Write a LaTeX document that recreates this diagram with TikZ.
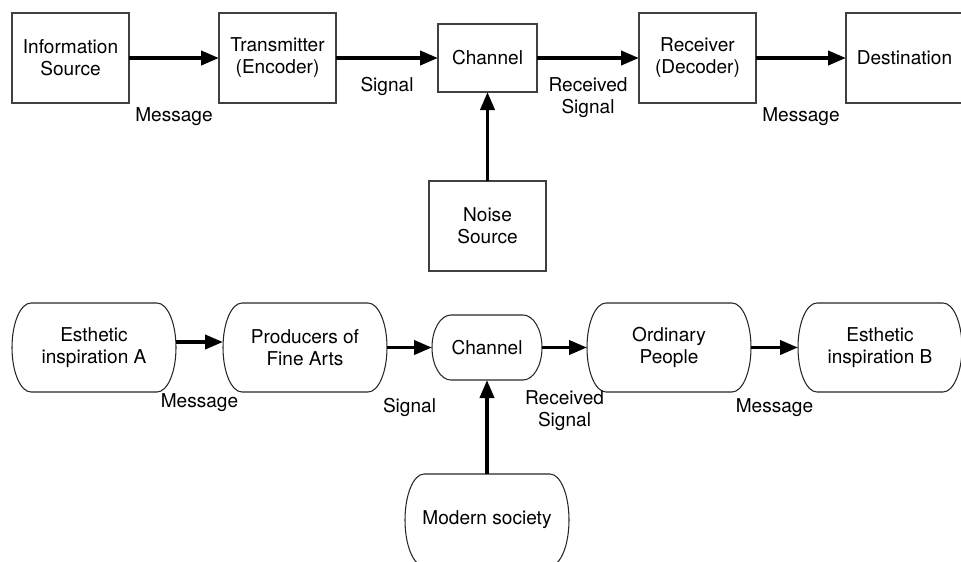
\documentclass[tikz,border=0pt]{standalone}
\usepackage{fontspec}
\setmainfont{TeX Gyre Heros}
\usetikzlibrary{arrows.meta}
\usetikzlibrary{positioning,calc}

\begin{document}
\begin{tikzpicture} [line width=0.6pt,
    every node/.style={font=\fontsize{10.85}{12.5}\selectfont},
    block/.style={draw=black!75,minimum width=2.34cm,minimum height=1.8cm,align=center,inner sep=0pt,outer sep=0pt},
    soft/.style={minimum width=3.28cm,minimum height=1.78cm,align=center,inner sep=0pt,outer sep=0pt},
    rim/.style={draw=black!85,line width=0.6pt},
    flow/.style={line width=2.2pt,-{Triangle[length=0.36cm,width=0.28cm]}},
    tag/.style={inner sep=0pt,align=center}]

  \clip (0,0) rectangle (19.22,-11.22);

  % Shannon model
  \node[block] (info) at (1.41,-1.16) {Information\\Source};
  \node[block] (trans) [right=1.8cm of info] {Transmitter\\(Encoder)};
  \node[block,minimum width=1.98cm,minimum height=1.36cm] (chanA) [right=2.04cm of trans] {Channel};
  \node[block] (recv) [right=2.04cm of chanA] {Receiver\\(Decoder)};
  \node[block] (dest) [right=1.8cm of recv] {Destination};
  \node[block] (noise) [below=1.78cm of chanA] {Noise\\Source};

  \path[flow]
    (info) edge node [tag,below=0.96cm] {Message} (trans)
    (trans) edge node [tag,below=0.34cm] {Signal} (chanA)
    (chanA) edge node [tag,below=0.36cm] {Received\\Signal} (recv)
    (recv) edge node [tag,below=0.96cm] {Message} (dest)
    (noise) edge (chanA);

  % art model
  \node[soft] (inspA) at (1.88,-6.95) {Esthetic\\inspiration A};
  \node[soft] (artists) [right=0.94cm of inspA] {Producers of\\Fine Arts};
  \node[soft,minimum width=2.2cm,minimum height=1.3cm] (chanB) [right=0.9cm of artists] {Channel};
  \node[soft] (people) [right=0.9cm of chanB] {Ordinary\\People};
  \node[soft] (inspB) [right=0.94cm of people] {Esthetic\\inspiration B};
  \node[soft,minimum height=1.84cm] (society) [below=1.88cm of chanB] {Modern society};

  \foreach \shp in {inspA,artists,chanB,people,inspB,society}
    \draw[rim] let \p1=(\shp.north), \p2=(\shp.south) in
      ([xshift=-0.38cm]\shp.north east)
        arc[start angle=90,end angle=-90,x radius=0.38cm,y radius={0.5*(\y1-(\y2))}]
      -- ([xshift=0.38cm]\shp.south west)
        arc[start angle=270,end angle=90,x radius=0.38cm,y radius={0.5*(\y1-(\y2))}]
      -- cycle;

  \path[flow]
    ([yshift=0.11cm]inspA.east) edge node [tag,below=1.0cm] {Message} ([yshift=0.11cm]artists.west)
    (artists) edge node [tag,below=0.98cm] {Signal} (chanB)
    (chanB) edge node [tag,below=0.82cm] {Received\\Signal} (people)
    (people) edge node [tag,below=0.98cm] {Message} (inspB)
    (society) edge (chanB);

\end{tikzpicture}
\end{document}
